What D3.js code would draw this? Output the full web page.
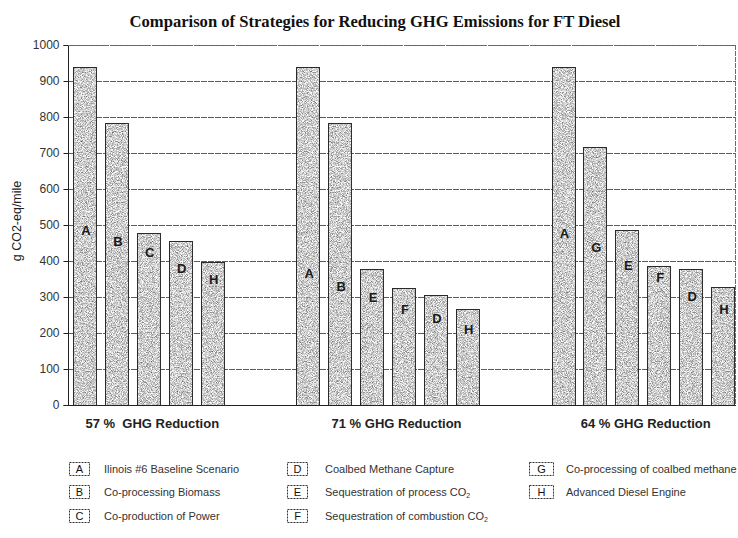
<!DOCTYPE html>
<html>
<head>
<meta charset="utf-8">
<script src="https://cdn.jsdelivr.net/npm/d3@7"></script>
<style>
  html, body { margin: 0; padding: 0; background: #fff; }
  svg { display: block; }
</style>
</head>
<body>
<svg id="chart" width="738" height="538"></svg>
<script>
// Scenario groups and the strategies stacked up within each one
const groupNames = ["57 %  GHG Reduction", "71 % GHG Reduction", "64 % GHG Reduction"];
const group1Codes = ["A", "B", "C", "D", "H"];
const group1Values = [938, 782, 477, 456, 396];
const group2Codes = ["A", "B", "E", "F", "D", "H"];
const group2Values = [938, 782, 379, 326, 306, 268];
const group3Codes = ["A", "G", "E", "F", "D", "H"];
const group3Values = [938, 717, 485, 387, 379, 329];

// Height (in g CO2-eq/mile) at which each bar's letter sits
const group1LabelAt = [486, 454, 423, 380, 350];
const group2LabelAt = [367, 331, 298, 267, 242, 211];
const group3LabelAt = [478, 437, 387, 354, 301, 267];

const yTicks = [0, 100, 200, 300, 400, 500, 600, 700, 800, 900, 1000];

const legendCodes = ["A", "B", "C", "D", "E", "F", "G", "H"];
const legendNames = [
  "Ilinois #6 Baseline Scenario",
  "Co-processing Biomass",
  "Co-production of Power",
  "Coalbed Methane Capture",
  "Sequestration of process CO2",
  "Sequestration of combustion CO2",
  "Co-processing of coalbed methane",
  "Advanced Diesel Engine"
];

const codesByGroup = [group1Codes, group2Codes, group3Codes];
const valuesByGroup = [group1Values, group2Values, group3Values];
const labelsByGroup = [group1LabelAt, group2LabelAt, group3LabelAt];

// Lay bars into consecutive category slots, two empty slots between groups
const gapSlots = 2;
const bars = [];
const groupSpans = [];
let slot = 0;
codesByGroup.forEach((codes, g) => {
  const first = slot;
  codes.forEach((c, i) => {
    bars.push({ code: c, value: valuesByGroup[g][i], labelAt: labelsByGroup[g][i], slot: slot, group: g });
    slot++;
  });
  groupSpans.push({ first: first, last: slot - 1, name: groupNames[g] });
  slot += gapSlots;
});
const totalSlots = slot - gapSlots;

const svg = d3.select("#chart");
const plot = { left: 68, right: 735, top: 45, bottom: 405 };

const x = d3.scaleBand()
  .domain(d3.range(totalSlots))
  .range([73, 734])
  .paddingInner(0.28)
  .paddingOuter(0);

const y = d3.scaleLinear().domain([0, 1000]).range([plot.bottom, plot.top]);

// Stippled grey fill for the bars
const defs = svg.append("defs");
const grain = defs.append("filter").attr("id", "grain")
  .attr("color-interpolation-filters", "sRGB")
  .attr("x", "0%").attr("y", "0%").attr("width", "100%").attr("height", "100%");
grain.append("feTurbulence")
  .attr("type", "fractalNoise").attr("baseFrequency", 1.2)
  .attr("numOctaves", 1).attr("seed", 7).attr("result", "noise");
grain.append("feColorMatrix").attr("in", "noise").attr("type", "matrix")
  .attr("values", "1.3 0 0 0 0.15  1.3 0 0 0 0.15  1.3 0 0 0 0.15  0 0 0 0 1")
  .attr("result", "grey");
grain.append("feComposite").attr("in", "grey").attr("in2", "SourceAlpha")
  .attr("operator", "in");

// Title
svg.append("text")
  .attr("x", 375).attr("y", 27)
  .attr("text-anchor", "middle")
  .style("font-family", "'Liberation Serif', 'Times New Roman', serif")
  .style("font-weight", "bold")
  .style("font-size", "16.6px")
  .style("fill", "#111")
  .text("Comparison of Strategies for Reducing GHG Emissions for FT Diesel");

// Horizontal gridlines
svg.append("g").selectAll("line")
  .data(yTicks.filter(t => t > 0))
  .join("line")
  .attr("x1", plot.left).attr("x2", plot.right)
  .attr("y1", d => Math.round(y(d)) + 0.5).attr("y2", d => Math.round(y(d)) + 0.5)
  .attr("stroke", "#5e5e5e")
  .attr("stroke-width", 1)
  .attr("stroke-dasharray", "6 1");

// Right edge of plot frame
svg.append("line")
  .attr("x1", plot.right + 0.5).attr("x2", plot.right + 0.5)
  .attr("y1", plot.top).attr("y2", plot.bottom)
  .attr("stroke", "#6a6a6a").attr("stroke-dasharray", "5 1");

// Bars: grainy fill layer, then outline on top
const barG = svg.append("g");
barG.selectAll("rect.fill")
  .data(bars)
  .join("rect")
  .attr("class", "fill")
  .attr("x", d => Math.round(x(d.slot)) + 0.5)
  .attr("y", d => Math.round(y(d.value)) + 0.5)
  .attr("width", x.bandwidth())
  .attr("height", d => Math.round(y(0)) - Math.round(y(d.value)))
  .attr("fill", "#bbb")
  .attr("filter", "url(#grain)");
barG.selectAll("rect.edge")
  .data(bars)
  .join("rect")
  .attr("class", "edge")
  .attr("x", d => Math.round(x(d.slot)) + 0.5)
  .attr("y", d => Math.round(y(d.value)) + 0.5)
  .attr("width", x.bandwidth())
  .attr("height", d => Math.round(y(0)) - Math.round(y(d.value)))
  .attr("fill", "none")
  .attr("stroke", "#2a2a2a")
  .attr("stroke-width", 1);

// Letters inside bars
svg.append("g").selectAll("text")
  .data(bars)
  .join("text")
  .attr("x", d => x(d.slot) + x.bandwidth() / 2 + 1.5)
  .attr("y", d => y(d.labelAt))
  .attr("dy", "0.36em")
  .attr("text-anchor", "middle")
  .style("font-family", "'Liberation Sans', Arial, sans-serif")
  .style("font-weight", "bold")
  .style("font-size", "13px")
  .style("fill", "#1a1a1a")
  .text(d => d.code);

// Y axis
const yAxis = svg.append("g")
  .attr("transform", `translate(${plot.left + 0.5},0)`)
  .call(d3.axisLeft(y).tickValues(yTicks).tickSize(5).tickPadding(4).tickFormat(d3.format("d")));
yAxis.select(".domain").attr("stroke", "#222").attr("d", `M-5,${plot.top + 0.5}H0V${plot.bottom + 0.5}H-5`);
yAxis.selectAll(".tick line").attr("stroke", "#222");
yAxis.selectAll(".tick text")
  .style("font-family", "'Liberation Sans', Arial, sans-serif")
  .style("font-size", "12px")
  .style("fill", "#333");

// Baseline and top frame
svg.append("line")
  .attr("x1", plot.left).attr("x2", plot.right + 1)
  .attr("y1", plot.bottom + 0.5).attr("y2", plot.bottom + 0.5)
  .attr("stroke", "#222");
svg.append("line")
  .attr("x1", plot.left).attr("x2", plot.right + 1)
  .attr("y1", plot.top + 0.5).attr("y2", plot.top + 0.5)
  .attr("stroke", "#6a6a6a").attr("stroke-dasharray", "5 1");

// Y axis title
svg.append("text")
  .attr("transform", `translate(21,${(plot.top + plot.bottom) / 2 - 4}) rotate(-90)`)
  .attr("text-anchor", "middle")
  .style("font-family", "'Liberation Sans', Arial, sans-serif")
  .style("font-size", "12.5px")
  .style("fill", "#222")
  .text("g CO2-eq/mile");

// Group captions under the bars
const captionNudge = [4, 9, 3];
svg.append("g").selectAll("text")
  .data(groupSpans)
  .join("text")
  .attr("x", (d, i) => (x(d.first) + x(d.last) + x.bandwidth()) / 2 + captionNudge[i])
  .attr("y", 428)
  .attr("text-anchor", "middle")
  .style("font-family", "'Liberation Sans', Arial, sans-serif")
  .style("font-weight", "bold")
  .style("font-size", "13px")
  .style("fill", "#222")
  .style("white-space", "pre")
  .text(d => d.name);

// Legend: three columns of lettered boxes
const legendCols = [
  { box: 69, w: 20, text: 104 },
  { box: 287, w: 20, text: 325 },
  { box: 529, w: 24, text: 566 }
];
const legendRows = [469, 492, 516];
const legendItems = legendCodes.map((c, i) => ({
  code: c, name: legendNames[i], col: Math.floor(i / 3), row: i % 3
}));
const lg = svg.append("g").selectAll("g")
  .data(legendItems)
  .join("g");
lg.append("rect")
  .attr("x", d => legendCols[d.col].box + 0.5)
  .attr("y", d => legendRows[d.row] - 6.5)
  .attr("width", d => legendCols[d.col].w)
  .attr("height", 13)
  .attr("fill", "#fff")
  .attr("stroke", "#333")
  .attr("stroke-dasharray", "2 1");
lg.append("text")
  .attr("x", d => legendCols[d.col].box + legendCols[d.col].w / 2 + 0.5)
  .attr("y", d => legendRows[d.row])
  .attr("dy", "0.36em")
  .attr("text-anchor", "middle")
  .style("font-family", "'Liberation Sans', Arial, sans-serif")
  .style("font-size", "11px")
  .style("fill", "#111")
  .text(d => d.code);
const lt = lg.append("text")
  .attr("x", d => legendCols[d.col].text)
  .attr("y", d => legendRows[d.row])
  .attr("dy", "0.34em")
  .style("font-family", "'Liberation Sans Narrow', 'Liberation Sans', Arial, sans-serif")
  .style("font-size", "11px")
  .style("fill", "#333");
lt.each(function(d) {
  const t = d3.select(this);
  if (d.name.endsWith("CO2")) {
    t.append("tspan").text(d.name.slice(0, -1));
    t.append("tspan").attr("dy", "0.3em").style("font-size", "7px").text("2");
  } else {
    t.text(d.name);
  }
});
</script>
</body>
</html>
